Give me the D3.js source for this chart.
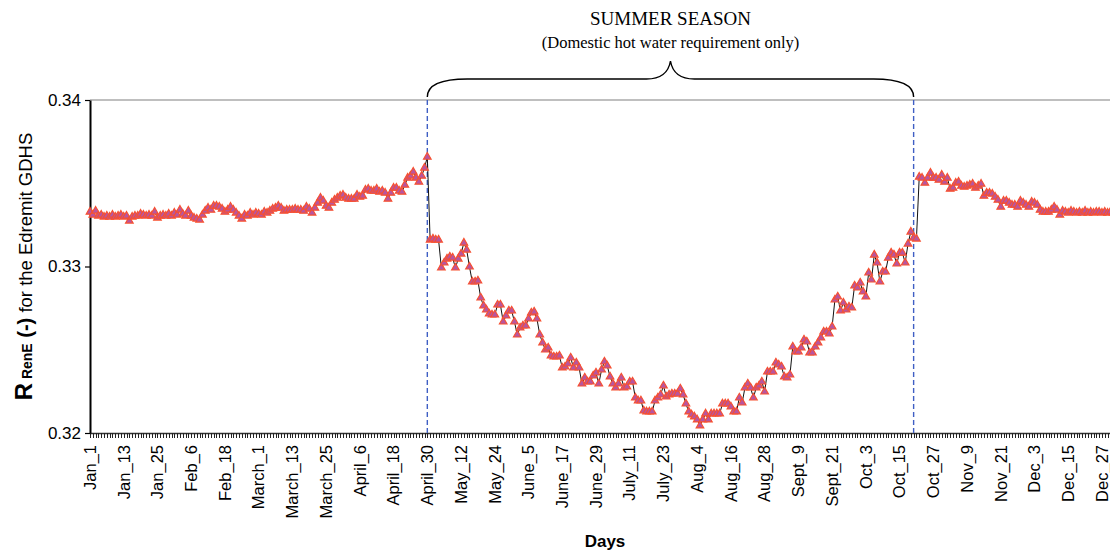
<!DOCTYPE html>
<html>
<head>
<meta charset="utf-8">
<script src="https://cdn.jsdelivr.net/npm/d3@7"></script>
<style>
  body { margin: 0; background: #fff; }
  svg { display: block; }
</style>
</head>
<body>
<svg id="chart"></svg>
<script>
// daily R_RenE values, Jan_1 .. April_30 (heating season)
const heatingSpring = [
  0.33328,0.33310,0.33334,0.33304,0.33310,0.33298,0.33304,0.33298,0.33310,0.33298,
  0.33304,0.33310,0.33298,0.33304,0.33274,0.33298,0.33304,0.33304,0.33316,0.33310,
  0.33304,0.33310,0.33304,0.33328,0.33292,0.33304,0.33310,0.33304,0.33316,0.33304,
  0.33322,0.33310,0.33340,0.33316,0.33304,0.33334,0.33304,0.33292,0.33286,0.33280,
  0.33310,0.33334,0.33352,0.33340,0.33364,0.33364,0.33358,0.33346,0.33328,0.33340,
  0.33358,0.33340,0.33322,0.33304,0.33286,0.33310,0.33304,0.33322,0.33310,0.33322,
  0.33316,0.33310,0.33328,0.33322,0.33334,0.33346,0.33352,0.33364,0.33352,0.33334,
  0.33340,0.33340,0.33340,0.33346,0.33340,0.33340,0.33334,0.33358,0.33346,0.33322,
  0.33352,0.33382,0.33412,0.33394,0.33364,0.33352,0.33382,0.33400,0.33412,0.33424,
  0.33430,0.33412,0.33406,0.33406,0.33406,0.33430,0.33418,0.33424,0.33460,0.33466,
  0.33454,0.33454,0.33466,0.33448,0.33454,0.33442,0.33406,0.33442,0.33472,0.33472,
  0.33454,0.33448,0.33490,0.33532,0.33544,0.33568,0.33532,0.33508,0.33544,0.33592,
  0.33658
];

// summer season, domestic hot water only
const summerSeason = [
  0.33160,0.33166,0.33160,0.33160,0.32992,0.33022,0.33046,0.33058,0.33052,0.32992,
  0.33046,0.33076,0.33142,0.33100,0.32998,0.32908,0.32908,0.32914,0.32812,0.32764,
  0.32740,0.32716,0.32710,0.32710,0.32770,0.32770,0.32668,0.32704,0.32734,0.32734,
  0.32668,0.32590,0.32632,0.32644,0.32644,0.32686,0.32722,0.32728,0.32686,0.32590,
  0.32542,0.32500,0.32512,0.32464,0.32458,0.32458,0.32464,0.32392,0.32398,0.32416,
  0.32452,0.32392,0.32422,0.32392,0.32296,0.32332,0.32308,0.32308,0.32344,0.32362,
  0.32296,0.32380,0.32428,0.32404,0.32338,0.32296,0.32272,0.32296,0.32332,0.32272,
  0.32278,0.32308,0.32308,0.32212,0.32194,0.32194,0.32134,0.32128,0.32128,0.32128,
  0.32194,0.32212,0.32230,0.32284,0.32218,0.32230,0.32236,0.32236,0.32236,0.32266,
  0.32230,0.32176,0.32128,0.32110,0.32098,0.32080,0.32044,0.32080,0.32116,0.32080,
  0.32116,0.32116,0.32116,0.32116,0.32176,0.32176,0.32176,0.32158,0.32128,0.32128,
  0.32212,0.32182,0.32272,0.32296,0.32272,0.32212,0.32272,0.32284,0.32308,0.32248,
  0.32368,0.32368,0.32368,0.32422,0.32410,0.32398,0.32338,0.32332,0.32350,0.32518,
  0.32488,0.32488,0.32512,0.32560,0.32548,0.32482,0.32482,0.32518,0.32542,0.32572,
  0.32608,0.32608,0.32596,0.32638,0.32800,0.32818,0.32734,0.32782,0.32740,0.32758,
  0.32752,0.32884,0.32872,0.32902,0.32848,0.32818,0.32962,0.32920,0.33070,0.33022,
  0.32908,0.32968,0.32968,0.33052,0.33082,0.33070,0.33016,0.33082,0.33082,0.33022,
  0.33136,0.33208,0.33172,0.33166
];

// heating season again, late Oct .. Dec
const heatingAutumn = [
  0.33538,0.33532,0.33502,0.33532,0.33562,0.33532,0.33532,0.33520,0.33550,0.33508,
  0.33532,0.33466,0.33472,0.33502,0.33508,0.33484,0.33478,0.33484,0.33490,0.33496,
  0.33472,0.33484,0.33496,0.33424,0.33442,0.33442,0.33436,0.33418,0.33400,0.33358,
  0.33394,0.33394,0.33382,0.33370,0.33370,0.33358,0.33394,0.33382,0.33370,0.33358,
  0.33388,0.33382,0.33370,0.33340,0.33328,0.33328,0.33328,0.33340,0.33358,0.33340,
  0.33310,0.33334,0.33328,0.33322,0.33334,0.33328,0.33322,0.33328,0.33322,0.33334,
  0.33322,0.33328,0.33322,0.33328,0.33328,0.33322,0.33328,0.33322,0.33328,0.33322,
  0.33328
];

// category labels shown every 12th day
const tickLabels = ["Jan_1","Jan_13","Jan_25","Feb_6","Feb_18","March_1","March_13",
  "March_25","April_6","April_18","April_30","May_12","May_24","June_5","June_17",
  "June_29","July_11","July_23","Aug_4","Aug_16","Aug_28","Sept_9","Sept_21","Oct_3",
  "Oct_15","Oct_27","Nov_9","Nov_21","Dec_3","Dec_15","Dec_27"];
const labelStep = 12;

const yTicks = [0.32, 0.33, 0.34];
// first and last day of the summer season (dashed markers)
const seasonBounds = [120, 293];

const values = heatingSpring.concat(summerSeason, heatingAutumn);
const days = values.map((v, i) => ({ i: i, v: v }));

const width = 1110, height = 556;
const margin = { left: 90, top: 100, bottom: 123 };
const dayStep = 2.811;

const svg = d3.select("#chart").attr("width", width).attr("height", height);

const x = d3.scaleLinear()
  .domain([0, values.length - 1])
  .range([margin.left, margin.left + (values.length - 1) * dayStep]);
const y = d3.scaleLinear()
  .domain([0.32, 0.34])
  .range([height - margin.bottom, margin.top]);

// plot frame (top border)
svg.append("line")
  .attr("x1", margin.left).attr("x2", width)
  .attr("y1", y(0.34)).attr("y2", y(0.34))
  .attr("stroke", "#808080").attr("stroke-width", 1.2);

// x axis with a tick for every day
const xAxis = svg.append("g")
  .attr("transform", "translate(0," + y(0.32) + ")")
  .call(d3.axisBottom(x)
    .tickValues(d3.range(values.length))
    .tickFormat("")
    .tickSize(5)
    .tickSizeOuter(0));
xAxis.select(".domain").attr("stroke", "#333").attr("stroke-width", 1.6);
xAxis.selectAll(".tick line")
  .attr("stroke", "#222")
  .attr("stroke-width", 1)
  .attr("shape-rendering", "crispEdges");

// rotated category labels
svg.append("g").selectAll("text")
  .data(tickLabels)
  .enter()
  .append("text")
  .attr("transform", (d, k) => "translate(" + x(k * labelStep) + "," + (y(0.32) + 12) + ") rotate(-90)")
  .attr("text-anchor", "end")
  .attr("dy", "0.35em")
  .style("font-family", "Arial, 'Liberation Sans', sans-serif")
  .style("font-size", "16.5px")
  .text(d => d);

// y axis
const yAxis = svg.append("g")
  .attr("transform", "translate(" + margin.left + ",0)")
  .call(d3.axisLeft(y).tickValues(yTicks).tickFormat(d3.format(".2f")).tickSize(5).tickSizeOuter(0));
yAxis.select(".domain").attr("stroke", "#000").attr("stroke-width", 2);
yAxis.selectAll(".tick line").attr("stroke", "#000").attr("stroke-width", 1.2);
yAxis.selectAll(".tick text")
  .attr("x", -9)
  .style("font-family", "Arial, 'Liberation Sans', sans-serif")
  .style("font-size", "17px")
  .style("fill", "#000");

// season boundaries
svg.append("g").selectAll("line")
  .data(seasonBounds)
  .enter()
  .append("line")
  .attr("x1", d => x(d)).attr("x2", d => x(d))
  .attr("y1", y(0.34)).attr("y2", y(0.32))
  .attr("stroke", "#3f5fc4")
  .attr("stroke-width", 1.4)
  .attr("stroke-dasharray", "5,3");

// data line
const line = d3.line().x(d => x(d.i)).y(d => y(d.v));
svg.append("path")
  .datum(days)
  .attr("d", line)
  .attr("fill", "none")
  .attr("stroke", "#111")
  .attr("stroke-width", 1);

// triangle markers
svg.append("g").selectAll("path")
  .data(days)
  .enter()
  .append("path")
  .attr("d", d3.symbol().type(d3.symbolTriangle).size(26))
  .attr("transform", d => "translate(" + x(d.i) + "," + y(d.v) + ")")
  .attr("fill", "#b8559f")
  .attr("stroke", "#f7502f")
  .attr("stroke-width", 1.1);

// curly brace over the summer season
const bx0 = x(seasonBounds[0]), bx1 = x(seasonBounds[1]);
const bm = (bx0 + bx1) / 2;
const bBase = 97, bMid = 79, bTip = 61;
svg.append("path")
  .attr("d",
    "M" + bx0 + "," + bBase +
    " Q" + bx0 + "," + bMid + " " + (bx0 + 40) + "," + bMid +
    " L" + (bm - 24) + "," + bMid +
    " Q" + (bm - 3) + "," + bMid + " " + bm + "," + bTip +
    " Q" + (bm + 3) + "," + bMid + " " + (bm + 24) + "," + bMid +
    " L" + (bx1 - 40) + "," + bMid +
    " Q" + bx1 + "," + bMid + " " + bx1 + "," + bBase)
  .attr("fill", "none")
  .attr("stroke", "#000")
  .attr("stroke-width", 1.4);

svg.append("text")
  .attr("x", bm).attr("y", 25)
  .attr("text-anchor", "middle")
  .style("font-family", "'Liberation Serif', 'Times New Roman', serif")
  .style("font-size", "19px")
  .text("SUMMER SEASON");

svg.append("text")
  .attr("x", bm).attr("y", 48)
  .attr("text-anchor", "middle")
  .style("font-family", "'Liberation Serif', 'Times New Roman', serif")
  .style("font-size", "16.5px")
  .text("(Domestic hot water requirement only)");

// axis titles
svg.append("text")
  .attr("x", 605).attr("y", 547)
  .attr("text-anchor", "middle")
  .style("font-family", "Arial, 'Liberation Sans', sans-serif")
  .style("font-size", "17px")
  .style("font-weight", "bold")
  .text("Days");

const yTitle = svg.append("text")
  .attr("transform", "translate(32," + ((y(0.32) + y(0.34)) / 2) + ") rotate(-90)")
  .attr("text-anchor", "middle")
  .style("font-family", "Arial, 'Liberation Sans', sans-serif");
yTitle.append("tspan").style("font-weight", "bold").style("font-size", "24px").text("R");
yTitle.append("tspan").style("font-weight", "bold").style("font-size", "14px").text(" RenE");
yTitle.append("tspan").style("font-weight", "bold").style("font-size", "20px").text(" (-)");
yTitle.append("tspan").style("font-size", "18.5px").text(" for the Edremit GDHS");
</script>
</body>
</html>
